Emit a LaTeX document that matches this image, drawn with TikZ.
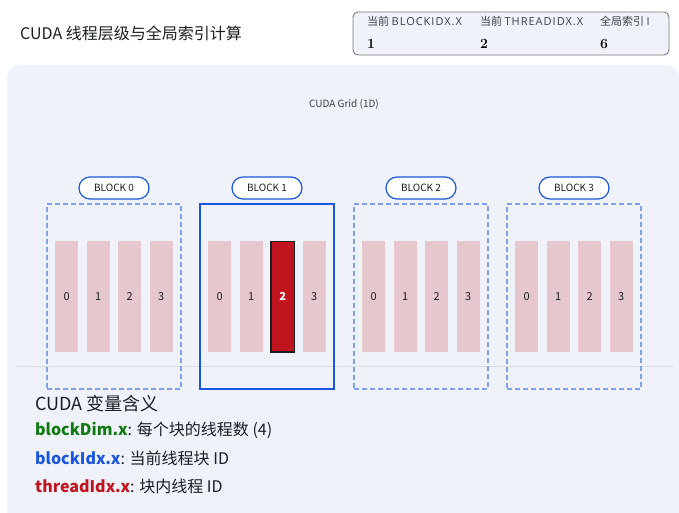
\documentclass[tikz,border=0pt]{standalone}
\usepackage{fontspec}
\setmainfont{Noto Sans CJK SC}
\newfontfamily\numfont{Latin Modern Roman}
\newfontfamily\capsfont[LetterSpace=9]{Open Sans}
\usetikzlibrary{positioning,calc}
\definecolor{GridPanel}{HTML}{EFF2F8}
\definecolor{GridLine}{HTML}{D9DCE2}
\definecolor{BlockBlue}{HTML}{1A56DB}
\definecolor{DashBlue}{HTML}{7FA2EA}
\definecolor{ThreadPink}{HTML}{E6C7CE}
\definecolor{ThreadRed}{HTML}{C0141E}
\definecolor{DimGreen}{HTML}{0F7A0F}
\definecolor{GridInk}{HTML}{1B1F23}
\definecolor{StatEdge}{HTML}{7A7A7A}

\begin{document}
\begin{tikzpicture}[x=1pt,y=-1pt,
  blockbox/.style={draw=DashBlue, dashed, dash pattern=on 5pt off 3pt, line width=1.2pt,
                   minimum width=134pt, minimum height=185pt, inner sep=0pt},
  activebox/.style={blockbox, draw=BlockBlue, solid, line width=2.4pt},
  pill/.style={draw=BlockBlue, fill=white, line width=1.2pt, rounded corners=11pt,
               minimum width=70pt, minimum height=22pt, inner sep=0pt,
               font=\fontsize{10}{10}\selectfont, text=GridInk},
  thread/.style={fill=ThreadPink, minimum width=23.3pt, minimum height=110.7pt, inner sep=0pt,
                 font=\fontsize{11}{11}\selectfont, text=GridInk},
  hot/.style={thread, fill=ThreadRed, draw=GridInk, line width=1.3pt, text=white,
              font=\fontsize{11}{11}\selectfont\bfseries},
  statlbl/.style={anchor=west, font=\fontsize{11}{11}\selectfont, text=GridInk!85, inner sep=0pt},
  statval/.style={anchor=west, font=\numfont\fontsize{14}{14}\selectfont\bfseries, text=black, inner sep=0pt},
  legend/.style={anchor=west, font=\fontsize{16}{17}\selectfont, text=GridInk, inner sep=0pt}]
  \useasboundingbox (0,0) rectangle (679,513);
  \clip (0,0) rectangle (679,513);
  \fill[white] (0,0) rectangle (679,513);

  % header
  \node[anchor=west, font=\fontsize{16}{17}\selectfont, text=GridInk, inner sep=0pt] (title) at (20,33)
    {CUDA 线程层级与全局索引计算};
  \node[draw=StatEdge, fill=GridPanel, rounded corners=5pt, line width=0.9pt,
        minimum width=316pt, minimum height=43pt, inner sep=0pt] (stat) at (511,33.5) {};
  \foreach \i/\lbl/\cap/\val/\x in {b/当前/BLOCKIDX.X/1/367, t/当前/THREADIDX.X/2/480, g/全局索引/I/6/600}{
    \node[statlbl] (lbl-\i) at (\x,21) {\lbl\ {\capsfont\cap}};
    \node[statval] (val-\i) at (\x,44) {\val};
  }

  % grid panel
  \fill[GridPanel] (7,65) [rounded corners=13pt] rectangle (679,540);
  \node[font=\fontsize{10}{10}\selectfont, text=GridInk!85] (gridlbl) at (344,104) {CUDA Grid (1D)};
  \coordinate (sepL) at (15,366);
  \coordinate (sepR) at (673,366);
  \draw[GridLine, line width=0.8pt] (sepL) -- (sepR);

  \foreach \b/\x in {0/114, 1/267, 2/421, 3/574}{
    \ifnum\b=1
      \node[activebox] (block\b) at (\x,296.5) {};
    \else
      \node[blockbox] (block\b) at (\x,296.5) {};
    \fi
    \node[pill] (pill\b) at (\x,188) {BLOCK \b};
    \foreach \t/\dx in {0/-47.25, 1/-15.75, 2/15.75, 3/47.25}{
      \pgfmathtruncatemacro{\sel}{\b==1 && \t==2}
      \ifnum\sel=1
        \node[hot] (thr\b-\t) at ($(block\b.center)+(\dx,0)$) {\t};
      \else
        \node[thread] (thr\b-\t) at ($(block\b.center)+(\dx,0)$) {\t};
      \fi
    }
  }

  % legend
  \node[anchor=west, font=\fontsize{18}{19}\selectfont, text=GridInk, inner sep=0pt] (legtitle) at (35,404)
    {CUDA 变量含义};
  \node[legend] (leg-dim) at (35,430) {\textcolor{DimGreen}{\bfseries blockDim.x}: 每个块的线程数 (4)};
  \node[legend] (leg-blk) at (35,458) {\textcolor{BlockBlue}{\bfseries blockIdx.x}: 当前线程块 ID};
  \node[legend] (leg-thr) at (35,486) {\textcolor{ThreadRed}{\bfseries threadIdx.x}: 块内线程 ID};
\end{tikzpicture}
\end{document}
